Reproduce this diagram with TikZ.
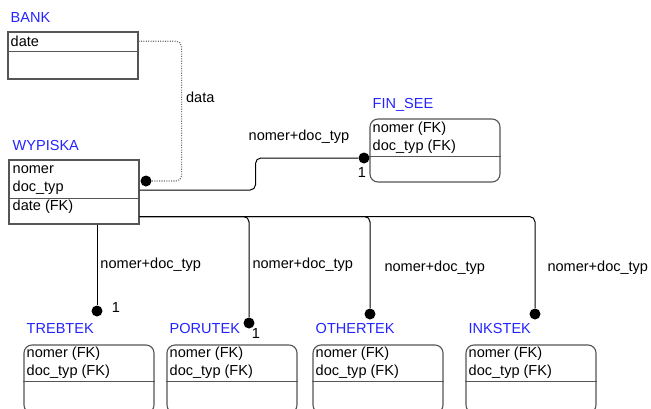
\documentclass[tikz,border=0pt]{standalone}
\usepackage{fontspec}
\setmainfont{Liberation Sans}
\usetikzlibrary{positioning,calc}
\definecolor{azulNom}{RGB}{35,35,255}
\definecolor{grisCaja}{RGB}{85,85,85}
\definecolor{grisPunto}{RGB}{110,110,110}

\begin{document}
\begin{tikzpicture}[
      x=0.75pt, y=-0.75pt,
      every node/.style={font=\fontsize{10.9}{13}\selectfont, inner sep=0pt},
      ent/.style   = {rectangle, minimum width=97.5pt, draw=grisCaja, line width=0.85pt},
      dep/.style   = {ent, rounded corners=6pt},
      nombre/.style= {anchor=base west, text=azulNom},
      attr/.style  = {anchor=base west},
      sep/.style   = {draw=grisCaja, line width=0.85pt},
      rel/.style   = {draw=black, line width=0.75pt, rounded corners=4pt},
      dataln/.style= {draw=grisPunto, line width=0.8pt, densely dotted, rounded corners=4pt},
      punto/.style = {circle, fill=black, minimum size=8.25pt},
    ]
    \useasboundingbox (0,0) rectangle (651,408);
    \clip (0,0) rectangle (651,408);

    % ── Entidades independientes ─────────────────────────────────
    \node[ent, minimum height=35.25pt] (bank) at (73,55.5)  {};
    \node[ent, minimum height=48pt]    (wyp)  at (74,192)   {};
    \node[nombre] at ($(bank.north west)+(3,-9)$) {BANK};
    \node[nombre] at ($(wyp.north west)+(4,-9)$)  {WYPISKA};
    \node[attr] (bdate) at ($(bank.north west)+(3,15)$) {date};
    \node[attr] at ($(wyp.north west)+(4,14)$) {nomer};
    \node[attr] at ($(wyp.north west)+(4,32)$) {doc\_typ};
    \node[attr] at ($(wyp.north west)+(4,51)$) {date (FK)};
    \draw[sep] ($(bank.north west)+(0,20)$) -- ($(bank.north east)+(0,20)$);
    \draw[sep] ($(wyp.north west)+(0,39)$)  -- ($(wyp.north east)+(0,39)$);

    % ── Entidades dependientes ───────────────────────────────────
    \node[dep, minimum height=47.25pt] (fin)  at (435,150.5) {};
    \node[nombre] at ($(fin.north west)+(3,-10)$) {FIN\_SEE};
    \node[attr] at ($(fin.north west)+(3,14)$) {nomer (FK)};
    \node[attr] at ($(fin.north west)+(3,32)$) {doc\_typ (FK)};
    \draw[sep] ($(fin.north west)+(0,38)$) -- ($(fin.north east)+(0,38)$);

    \foreach \nm/\lbl/\cx in {treb/TREBTEK/89, poru/PORUTEK/232,
                              othe/OTHERTEK/378, inks/INKSTEK/531} {
      \node[dep, minimum height=51pt] (\nm) at (\cx,379) {};
      \node[nombre] at ($(\nm.north west)+(3,-10.5)$) {\lbl};
      \node[attr] at ($(\nm.north west)+(3,13)$) {nomer (FK)};
      \node[attr] at ($(\nm.north west)+(3,31)$) {doc\_typ (FK)};
      \draw[sep] ($(\nm.north west)+(0,37)$) -- ($(\nm.north east)+(0,37)$);
    }

    % ── Puntos de cardinalidad ───────────────────────────────────
    \node[punto] (d0) at (146,181) {};
    \node[punto] (d1) at (364,158) {};
    \node[punto] (d2) at (97,311)  {};
    \node[punto] (d3) at (249,323) {};
    \node[punto] (d4) at (370,314) {};
    \node[punto] (d5) at (535,314) {};

    % ── Relaciones ───────────────────────────────────────────────
    \draw[dataln] (bank.east |- bdate) -- ++(43,0) |- (d0)
          node[pos=0.2, right=3pt] {data};
    \draw[rel] ($(wyp.east)+(0,-2)$) -- ++(116,0) |- (d1);
    \node at (299,137) {nomer+doc\_typ};
    \node at (362,172) {1};

    \draw[rel] (wyp.south -| d2) -- (d2)
          node[pos=0.5, right=2.25pt] {nomer+doc\_typ};
    \draw[rel] ($(wyp.south east)+(0,-8)$) -| (d3)
          node[pos=0.74, right=2.25pt] {nomer+doc\_typ};
    \draw[rel] ($(wyp.south east)+(0,-8)$) -| (d4)
          node[pos=0.78, right=10.5pt] {nomer+doc\_typ};
    \draw[rel] ($(wyp.south east)+(0,-8)$) -| (d5)
          node[pos=0.78, right=9pt] {nomer+doc\_typ};
    \node at (116,307) {1};
    \node at (256,333) {1};

  \end{tikzpicture}
\end{document}
